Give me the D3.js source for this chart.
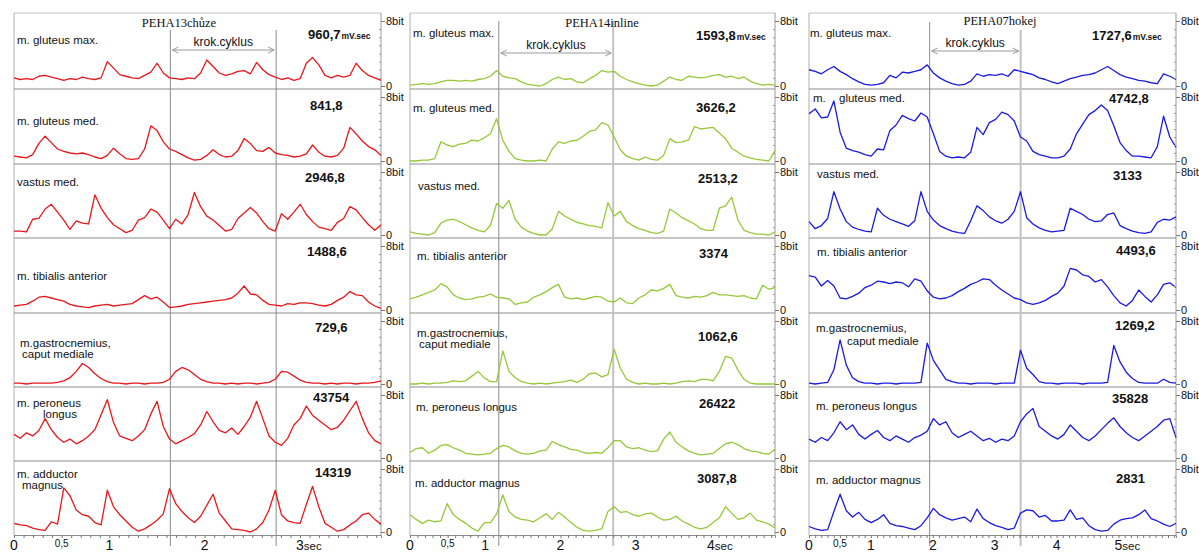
<!DOCTYPE html>
<html>
<head>
<meta charset="utf-8">
<script src="https://cdn.jsdelivr.net/npm/d3@7"></script>
<style>
  body { margin: 0; background: #fff; }
  svg { display: block; }
  text { font-family: "Liberation Sans", Arial, sans-serif; fill: #111; }
</style>
</head>
<body>
<svg id="chart" width="1199" height="553"></svg>
<script>
// ---- data -----------------------------------------------------------------
const titles = ["PEHA13chůze", "PEHA14inline", "PEHA07hokej"];

const labels_chuze = ["m. gluteus max.", "m. gluteus med.", "vastus med.", "m. tibialis anterior",
  "m.gastrocnemius,\ncaput mediale", "m. peroneus\nlongus", "m. adductor\nmagnus"];
const labels_inline = ["m. gluteus max.", "m. gluteus med.", "vastus med.", "m. tibialis anterior",
  "m.gastrocnemius,\ncaput mediale", "m. peroneus longus", "m. adductor magnus"];
const labels_hokej = ["m. gluteus max.", "m.\ngluteus med.", "vastus med.", "m. tibialis anterior",
  "m.gastrocnemius,\ncaput mediale", "m. peroneus longus", "m. adductor magnus"];

const integrals_chuze = ["960,7", "841,8", "2946,8", "1488,6", "729,6", "43754", "14319"];
const integrals_inline = ["1593,8", "3626,2", "2513,2", "3374", "1062,6", "26422", "3087,8"];
const integrals_hokej = ["1727,6", "4742,8", "3133", "4493,6", "1269,2", "35828", "2831"];
const unit = "mV.sec";

const durations = [3.85, 4.85, 5.93];           // seconds shown in each panel
const cycle_marks = [[1.64, 2.75], [1.18, 2.70], [1.95, 3.42]];
const sec_ticks = [[0, 0.5, 1, 2, 3], [0, 0.5, 1, 2, 3, 4], [0, 0.5, 1, 2, 3, 4, 5]];
const bit_ticks = [0, 8];

// EMG envelopes, 0..8 bit, evenly sampled over each panel's duration
const chuze_gmax = [1.0,0.8,0.9,0.8,1.2,1.3,1.1,0.9,0.7,0.9,0.8,1.1,0.9,0.8,1.0,3.0,2.2,1.4,1.2,1.0,0.9,1.3,1.7,2.8,1.6,1.0,0.9,0.8,1.0,0.9,1.6,3.2,2.4,1.6,1.3,1.5,1.8,1.9,1.5,2.9,2.0,1.4,1.1,0.8,1.0,0.7,0.9,2.8,3.5,2.6,1.3,1.0,1.3,1.1,1.3,2.8,1.9,1.3,1.0,0.7];
const chuze_gmed = [0.6,0.5,0.4,0.8,2.2,3.1,2.3,1.5,1.2,1.0,0.9,1.0,0.8,0.5,0.3,0.7,1.6,0.9,0.3,0.2,0.3,1.5,4.4,3.8,2.4,1.5,1.2,0.8,0.4,0.1,0.2,0.7,1.4,0.8,0.5,0.6,1.3,2.8,2.2,1.3,1.2,1.7,1.0,0.8,0.7,0.5,0.6,0.9,2.0,1.1,0.6,0.5,0.7,1.6,4.2,3.4,2.5,1.8,1.4,0.7];
const chuze_vmed = [0.5,0.5,0.4,2.0,2.1,3.3,3.9,2.9,1.9,0.7,1.8,1.5,1.4,5.1,3.4,2.2,1.3,0.8,0.3,0.6,1.9,2.2,3.3,2.9,1.9,0.8,2.0,1.4,2.6,5.4,3.6,2.4,1.9,1.2,0.5,0.7,2.1,2.8,3.5,2.8,1.7,0.8,0.5,2.7,2.0,2.9,3.9,2.6,1.7,1.0,0.8,0.6,1.6,2.1,3.6,3.2,2.2,1.3,0.6,1.3];
const chuze_tib = [0.5,0.6,0.7,1.1,1.6,1.7,1.5,1.3,1.1,0.7,0.5,0.4,0.3,0.5,0.6,0.7,0.5,0.6,0.7,0.8,1.3,1.8,1.4,1.6,1.0,0.3,0.4,0.5,0.7,0.8,0.9,1.0,1.1,1.2,1.3,1.5,2.1,3.0,2.0,1.9,1.2,0.7,0.6,0.5,0.8,0.7,0.9,0.9,0.8,0.6,0.5,0.7,1.2,1.6,2.3,1.9,1.8,1.0,0.5,0.2];
const chuze_gast = [0.1,0.1,0.0,0.1,0.1,0.1,0.1,0.2,0.4,0.8,1.6,2.6,2.1,1.3,0.7,0.3,0.1,0.1,0.0,0.1,0.1,0.0,0.1,0.1,0.2,0.6,1.6,2.1,1.8,1.2,0.6,0.3,0.1,0.1,0.0,0.1,0.0,0.1,0.1,0.0,0.1,0.2,0.6,1.6,1.5,1.0,0.5,0.2,0.1,0.1,0.0,0.1,0.0,0.1,0.1,0.0,0.1,0.1,0.2,0.4];
const chuze_pero = [3.0,2.5,3.2,2.8,3.5,5.0,3.6,2.6,2.0,2.4,1.8,2.2,2.8,3.6,5.5,7.4,4.5,2.8,2.5,2.2,2.8,3.6,5.6,7.2,4.0,2.4,1.8,2.2,2.6,3.1,4.2,5.9,4.6,3.5,3.2,3.8,3.0,4.0,5.2,7.2,5.0,2.8,2.0,1.6,2.5,4.2,5.0,6.6,5.4,4.8,4.2,3.6,3.9,4.8,6.0,7.2,5.0,3.2,2.2,1.8];
const chuze_add = [1.1,0.9,0.8,0.5,0.3,0.2,1.3,1.0,5.6,4.6,2.8,2.2,2.0,1.2,0.9,5.3,3.2,2.2,1.4,0.6,0.1,0.4,0.9,1.5,2.3,5.5,3.6,2.6,1.8,1.2,2.0,3.4,4.8,2.4,1.4,0.4,0.3,0.2,0.0,0.4,1.2,2.8,5.3,2.2,1.4,1.2,1.1,3.5,5.8,3.2,1.1,0.6,0.1,0.3,0.9,1.4,2.2,2.4,1.6,1.0];

const inline_gmax = [0.1,0.2,0.3,0.2,0.3,0.5,0.7,0.7,0.6,0.7,0.6,0.8,0.9,1.2,1.9,1.2,1.0,0.9,0.5,0.2,0.1,0.0,0.3,0.8,1.1,0.8,0.9,0.5,0.4,0.9,1.3,1.9,1.7,1.8,1.2,0.8,0.5,0.3,0.1,0.0,0.1,0.6,1.1,0.8,0.7,1.2,1.1,1.0,1.1,1.3,1.4,1.1,1.2,0.9,1.1,0.6,0.3,0.1,0.2,0.1];
const inline_gmed = [0.0,0.0,0.1,0.1,0.3,2.4,2.0,1.8,2.1,2.2,2.6,2.5,2.9,3.4,5.3,2.6,1.2,0.3,0.1,0.0,0.0,0.1,0.0,1.5,2.4,2.2,2.5,2.6,3.1,3.7,3.9,4.8,4.5,3.0,1.4,0.6,0.3,0.1,0.5,0.2,0.1,0.7,2.8,2.3,2.4,2.6,4.3,4.0,4.1,4.2,3.5,2.8,1.6,1.1,0.6,0.4,0.2,0.1,0.0,1.3];
const inline_vmed = [0.4,0.2,0.1,0.0,0.3,1.5,1.9,2.0,1.7,1.3,0.9,0.6,0.4,1.2,4.0,3.4,4.4,2.0,1.0,0.5,0.2,0.0,0.0,0.8,3.0,2.4,2.0,1.6,1.4,1.2,1.1,0.9,4.1,2.4,3.0,1.7,1.2,0.8,0.6,0.3,0.2,0.5,3.3,2.8,2.2,1.8,1.4,0.8,0.6,0.6,3.4,3.7,4.8,1.9,0.6,0.3,0.1,0.1,0.0,0.4];
const inline_tib = [1.4,1.6,1.9,2.2,2.5,3.3,2.9,1.9,1.5,1.3,1.4,1.6,1.7,2.0,1.6,1.5,1.4,0.7,0.9,1.0,1.6,1.9,2.3,2.8,3.2,1.6,1.4,1.5,1.3,1.5,1.7,1.6,1.1,1.0,1.5,0.9,0.8,1.5,1.9,2.5,2.4,2.7,3.2,1.8,1.6,1.5,1.7,1.6,1.8,2.2,1.9,1.9,1.8,1.7,1.8,1.5,1.4,3.1,2.6,2.8];
const inline_gast = [0.0,0.0,0.1,0.0,0.1,0.1,0.2,0.4,0.3,0.4,1.0,1.6,0.8,0.3,0.3,4.2,1.6,0.8,0.3,0.1,0.0,0.1,0.0,0.1,0.2,0.3,0.5,0.2,0.6,1.3,1.4,0.9,1.2,4.4,2.0,0.6,0.2,0.0,0.1,0.0,0.0,0.1,0.0,0.1,0.3,0.4,0.3,0.6,0.6,0.4,1.6,3.5,3.3,1.8,0.6,0.1,0.0,0.0,0.0,0.0];
const inline_pero = [0.7,1.2,1.3,0.6,1.0,1.6,1.7,1.3,1.0,0.6,0.5,0.4,0.5,0.6,1.2,1.6,1.4,0.9,0.6,0.5,0.6,0.9,1.0,2.1,1.7,1.4,1.1,1.0,0.7,0.6,0.7,0.6,1.3,2.2,2.2,1.4,1.2,1.3,1.0,0.8,0.9,2.4,3.3,2.0,1.4,0.9,0.6,0.4,0.5,0.6,1.2,1.8,2.0,1.7,1.2,0.9,0.8,0.6,0.5,1.1];
const inline_add = [2.2,1.6,1.1,1.5,1.3,1.4,3.6,2.2,1.6,1.1,0.5,0.1,1.2,1.2,2.3,4.7,2.6,1.9,1.6,1.5,1.3,1.8,2.3,1.6,2.5,1.9,1.2,0.6,0.2,0.1,0.2,0.4,2.6,3.2,2.5,2.6,2.2,2.0,2.3,2.4,1.9,1.5,1.6,2.0,1.4,1.0,0.6,0.4,0.6,1.2,1.8,3.2,2.4,1.6,1.8,2.4,1.5,1.3,1.0,0.5];

const hokej_gmax = [2.0,1.8,1.5,2.0,2.4,1.8,1.4,0.9,0.5,0.2,0.1,0.2,0.4,1.3,1.0,1.7,1.6,1.8,2.0,2.6,1.6,1.0,0.6,0.3,0.1,0.2,0.6,1.5,1.2,1.4,1.3,1.5,1.2,2.0,1.8,1.6,1.4,1.0,0.8,0.5,0.3,0.6,0.9,1.1,1.3,1.4,1.6,2.0,2.4,1.9,1.4,1.1,0.9,0.7,0.6,0.4,0.3,1.5,1.2,0.8];
const hokej_gmed = [5.9,6.5,5.4,5.5,7.5,3.6,1.6,1.3,1.1,0.8,0.6,1.5,1.4,3.8,4.5,5.7,5.3,5.0,6.0,5.5,3.4,1.2,0.6,0.4,0.5,0.4,1.1,4.2,3.3,4.8,5.2,6.1,5.8,5.0,3.0,2.5,1.2,0.8,0.6,0.4,0.4,0.6,1.5,3.4,4.6,5.8,6.3,7.0,6.3,4.4,2.3,1.3,0.6,0.6,0.5,0.4,1.8,5.6,3.0,1.7];
const hokej_vmed = [1.7,0.8,1.2,2.1,5.5,3.3,1.7,1.0,0.7,0.5,0.4,3.4,2.5,2.0,1.7,1.4,1.1,1.8,5.5,3.0,1.9,1.2,0.8,0.5,0.3,0.2,1.8,3.7,3.1,2.3,1.8,1.5,2.0,3.0,5.5,2.2,1.4,0.9,0.6,0.4,0.5,0.6,3.4,3.0,2.6,2.0,1.7,1.8,2.6,2.8,1.2,0.8,0.5,0.3,0.2,0.4,1.6,2.0,1.9,2.3];
const hokej_tib = [4.3,4.1,3.0,3.7,3.0,1.5,1.4,1.7,2.1,2.8,3.1,3.6,3.5,3.3,3.5,3.4,2.9,3.9,3.6,2.4,1.6,1.4,1.5,1.8,2.3,2.7,3.2,3.5,3.9,3.8,3.1,2.5,2.0,1.5,1.3,0.9,0.7,0.9,1.2,1.7,2.1,3.0,5.2,5.0,4.4,4.2,3.5,3.8,2.9,1.8,0.9,0.5,1.2,2.5,1.7,1.0,1.9,3.2,3.4,2.8];
const hokej_gast = [0.1,0.0,0.1,0.2,1.8,5.6,2.4,0.8,0.3,0.1,0.1,0.0,0.1,0.1,0.0,0.1,0.1,0.1,0.2,5.2,3.0,1.8,0.6,0.3,0.1,0.1,0.0,0.1,0.1,0.1,0.0,0.1,0.1,0.1,4.3,2.0,1.2,0.3,0.1,0.1,0.0,0.1,0.1,0.1,0.0,0.1,0.1,0.1,0.2,4.9,2.8,1.5,0.7,0.2,0.1,0.1,0.1,0.6,0.2,0.1];
const hokej_pero = [2.4,2.0,2.6,2.2,3.2,4.6,3.6,4.2,3.0,2.4,3.0,3.5,2.6,2.2,2.8,2.4,2.0,2.6,2.9,3.4,5.0,4.2,4.6,3.2,2.6,3.0,3.4,2.8,2.2,2.5,2.0,2.4,2.2,2.8,4.6,5.6,6.3,4.0,3.4,2.8,2.4,3.0,4.2,3.4,2.6,2.2,2.8,3.6,4.4,5.1,4.0,3.2,2.6,2.2,2.8,3.4,4.0,4.8,5.0,2.6];
const hokej_add = [0.7,0.4,0.2,0.3,2.6,4.8,2.7,1.9,2.5,1.6,1.2,1.6,2.2,1.1,0.8,0.7,0.5,0.3,0.8,1.8,3.0,2.2,1.8,1.5,1.7,1.9,1.3,2.9,1.7,1.2,0.8,0.6,0.3,0.5,2.4,2.8,2.7,1.9,2.1,1.4,1.4,1.5,2.8,1.6,1.8,0.8,0.3,0.1,0.2,1.0,1.5,1.7,1.8,2.2,2.8,1.7,1.4,1.0,0.7,1.1];

const traces_chuze = [chuze_gmax, chuze_gmed, chuze_vmed, chuze_tib, chuze_gast, chuze_pero, chuze_add];
const traces_inline = [inline_gmax, inline_gmed, inline_vmed, inline_tib, inline_gast, inline_pero, inline_add];
const traces_hokej = [hokej_gmax, hokej_gmed, hokej_vmed, hokej_tib, hokej_gast, hokej_pero, hokej_add];

// ---- layout ---------------------------------------------------------------
const row_edges = [13, 89, 164, 238, 313, 387, 461, 535];
const axis_y = 535;

const panels = [
  { left: 14, right: 381, color: "#e8171b", title_x: 179, title_y: 27, cyc_top: [30, 30], arrow_y: 50,
    labels: labels_chuze, values: integrals_chuze, traces: traces_chuze,
    label_pos: [[[17, 44]], [[17, 125]], [[17, 186]], [[17, 280]], [[20, 347], [22, 358]], [[17, 407], [43, 418]], [[17, 478], [22, 489]]],
    value_pos: [[308, 39], [310, 110], [305, 182], [307, 256], [315, 332], [313, 402], [315, 477]] },
  { left: 410, right: 775, color: "#97c83a", title_x: 602, title_y: 27, cyc_top: [21, 21], arrow_y: 53,
    labels: labels_inline, values: integrals_inline, traces: traces_inline,
    label_pos: [[[413, 37]], [[413, 112]], [[418, 190]], [[417, 260]], [[417, 337], [419, 348]], [[416, 411]], [[415, 487]]],
    value_pos: [[696, 40], [696, 112], [698, 183], [699, 258], [698, 341], [699, 408], [697, 483]] },
  { left: 809, right: 1176, color: "#1b1be0", title_x: 1000, title_y: 25, cyc_top: [22, 30], arrow_y: 51,
    labels: labels_hokej, values: integrals_hokej, traces: traces_hokej,
    label_pos: [[[810, 37]], [[813, 102], [839, 102]], [[817, 178]], [[817, 256]], [[816, 332], [847, 345]], [[816, 410]], [[816, 484]]],
    value_pos: [[1092, 40], [1109, 103], [1113, 180], [1116, 255], [1115, 330], [1112, 403], [1116, 483]] }
];

const svg = d3.select("#chart");

panels.forEach((p, pi) => {
  let g = svg.append("g").attr("class", "panel");
  let dur = durations[pi];
  let x = d3.scaleLinear().domain([0, dur]).range([p.left, p.right]);

  // frame
  g.append("line").attr("x1", p.left).attr("x2", p.right).attr("y1", row_edges[0]).attr("y2", row_edges[0])
    .attr("stroke", "#c4c4c4").attr("stroke-width", 1.2);
  g.append("line").attr("x1", p.left).attr("x2", p.left).attr("y1", row_edges[0]).attr("y2", axis_y)
    .attr("stroke", "#b0b0b0");
  g.append("line").attr("x1", p.right).attr("x2", p.right).attr("y1", row_edges[0]).attr("y2", axis_y)
    .attr("stroke", "#9a9a9a");
  row_edges.slice(1, -1).forEach(y => {
    g.append("line").attr("x1", p.left).attr("x2", p.right).attr("y1", y).attr("y2", y)
      .attr("stroke", "#8c8c8c").attr("stroke-width", 1.2);
  });

  // step cycle markers
  cycle_marks[pi].forEach((t, k) => {
    g.append("line").attr("x1", x(t)).attr("x2", x(t)).attr("y1", p.cyc_top[k]).attr("y2", 546)
      .attr("stroke", k == 1 && pi > 0 ? "#c2c2c2" : "#8a8a8a")
      .attr("stroke-width", k == 1 && pi > 0 ? 2 : 1);
  });
  let ax1 = x(cycle_marks[pi][0]) + 2, ax2 = x(cycle_marks[pi][1]) - 2, ay = p.arrow_y;
  g.append("line").attr("x1", ax1).attr("x2", ax2).attr("y1", ay).attr("y2", ay).attr("stroke", "#9a9a9a");
  g.append("path").attr("d", `M${ax1 + 6},${ay - 3}L${ax1},${ay}L${ax1 + 6},${ay + 3}`)
    .attr("fill", "none").attr("stroke", "#9a9a9a");
  g.append("path").attr("d", `M${ax2 - 6},${ay - 3}L${ax2},${ay}L${ax2 - 6},${ay + 3}`)
    .attr("fill", "none").attr("stroke", "#9a9a9a");
  g.append("text").attr("x", (ax1 + ax2) / 2).attr("y", ay - 4).attr("text-anchor", "middle")
    .style("font-size", "12px").text("krok.cyklus");

  g.append("text").attr("x", p.title_x).attr("y", p.title_y).attr("text-anchor", "middle")
    .style("font-family", "'Liberation Serif', 'Times New Roman', serif").style("font-size", "12.5px")
    .text(titles[pi]);

  // rows
  p.traces.forEach((vals, ri) => {
    let top = row_edges[ri], bottom = row_edges[ri + 1];
    let y = d3.scaleLinear().domain([0, 8]).range([bottom - 3, top + 8]);
    let step = dur / (vals.length - 1);
    let line = d3.line().x((d, i) => x(i * step)).y(d => y(d));

    g.append("path").datum(vals).attr("d", line)
      .attr("fill", "none").attr("stroke", p.color).attr("stroke-width", 1.3)
      .attr("stroke-linejoin", "round");

    // right bit axis
    let yAxis = d3.axisRight(y).tickValues(bit_ticks).tickSize(4).tickPadding(1)
      .tickFormat(d => d == 8 ? "8bit" : "0");
    let ya = g.append("g").attr("transform", `translate(${p.right},0)`).call(yAxis);
    ya.select(".domain").remove();
    ya.selectAll("line").attr("stroke", "#777");
    ya.selectAll("text").style("font-size", "11px").attr("dy", "0.35em");
    let minor = g.append("g").attr("transform", `translate(${p.right},0)`)
      .call(d3.axisLeft(y).tickValues(d3.range(1, 8)).tickSize(2).tickFormat(""));
    minor.select(".domain").remove();
    minor.selectAll("line").attr("stroke", "#999");

    // muscle label and integral value
    p.labels[ri].split("\n").forEach((ln, li) => {
      let pos = p.label_pos[ri][li];
      g.append("text").attr("x", pos[0]).attr("y", pos[1]).style("font-size", "11.5px").text(ln);
    });
    let vt = g.append("text").attr("x", p.value_pos[ri][0]).attr("y", p.value_pos[ri][1])
      .style("font-size", "13px").style("font-weight", "bold").text(p.values[ri]);
    if (ri == 0) vt.append("tspan").attr("dx", 1).style("font-size", "8.5px").text(unit);
  });

  // time axis
  let xa = g.append("g").attr("transform", `translate(0,${axis_y})`)
    .call(d3.axisBottom(x).tickValues(d3.range(0, dur, 0.1)).tickSize(3).tickFormat(""));
  xa.select(".domain").attr("stroke", "#8c8c8c");
  xa.selectAll("line").attr("stroke", "#777");

  let last = sec_ticks[pi][sec_ticks[pi].length - 1];
  sec_ticks[pi].forEach(t => {
    if (t == 0.5) {
      g.append("text").attr("x", x(t)).attr("y", 547).attr("text-anchor", "middle")
        .style("font-size", "10px").text("0,5");
    } else if (t == last) {
      let tt = g.append("text").attr("x", x(t) - 4).attr("y", 550).style("font-size", "14px").text(t);
      tt.append("tspan").style("font-size", "11.5px").text("sec");
    } else {
      g.append("text").attr("x", x(t)).attr("y", 550).attr("text-anchor", "middle")
        .style("font-size", "14px").text(t);
    }
  });
});
</script>
</body>
</html>
